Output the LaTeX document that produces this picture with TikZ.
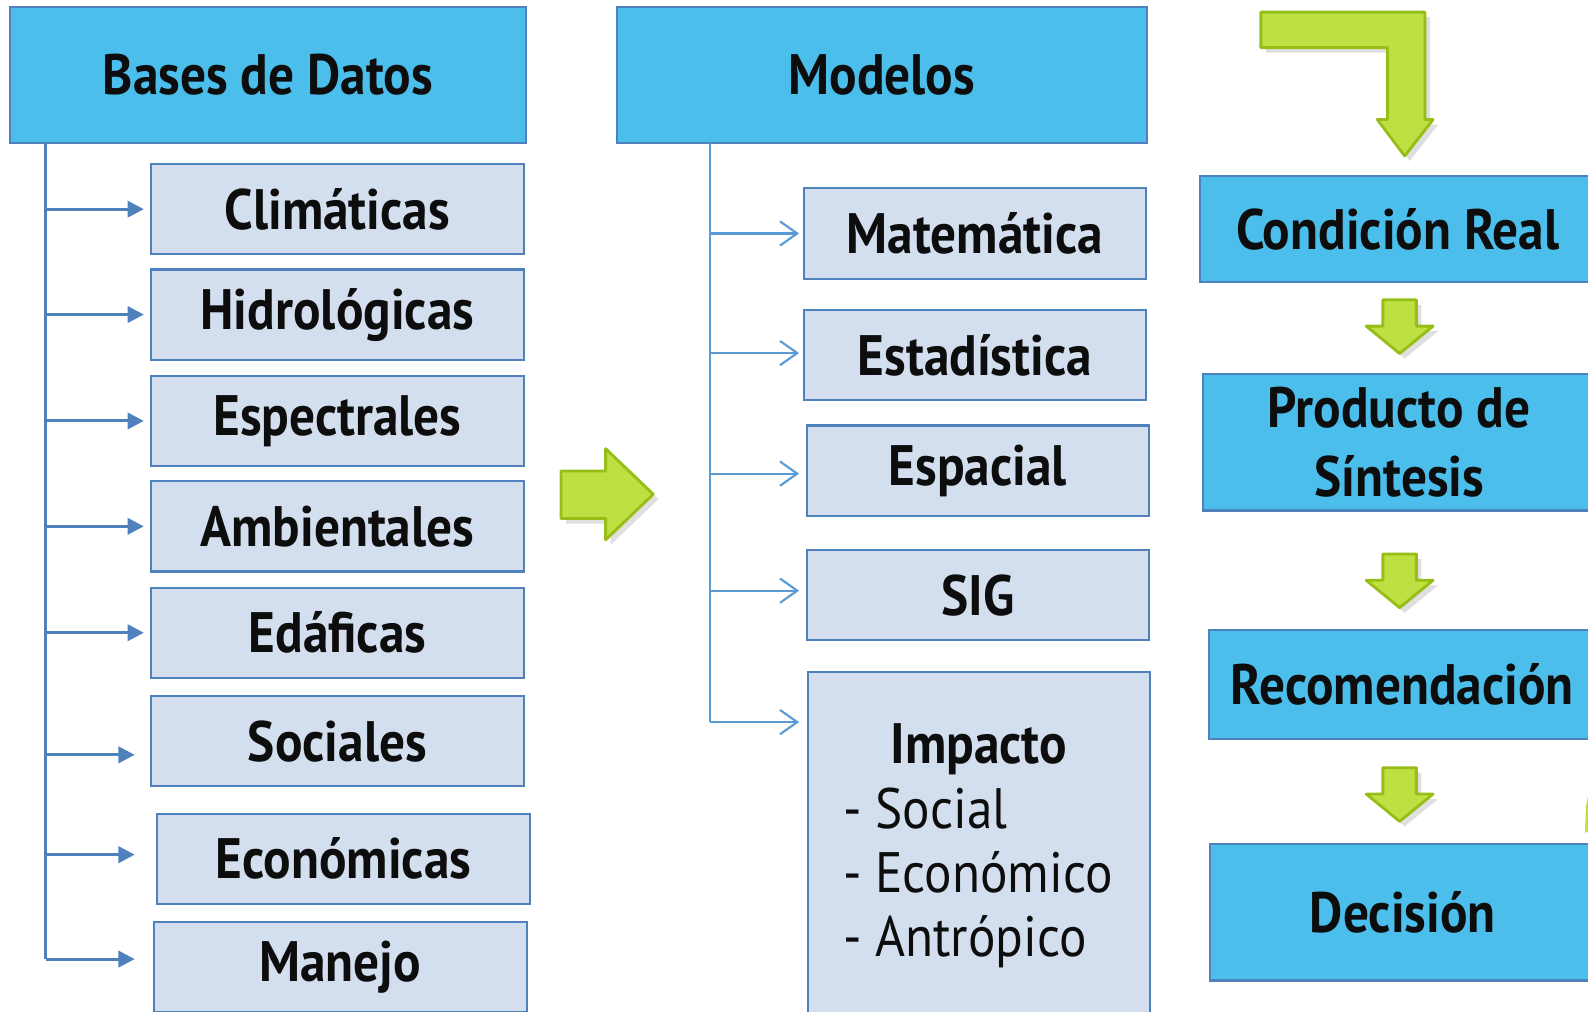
\documentclass[tikz,border=0pt]{standalone}
\usepackage{fontspec}
\setmainfont{PT Sans}[FakeStretch=0.9]
\usetikzlibrary{arrows.meta,positioning,shadows}

\definecolor{headblue}{RGB}{75,190,236}
\definecolor{itemfill}{RGB}{211,223,238}
\definecolor{edgeblue}{RGB}{79,129,189}
\definecolor{linkblue}{RGB}{91,155,213}
\definecolor{leafgreen}{RGB}{190,224,66}
\definecolor{leafedge}{RGB}{150,190,22}
\definecolor{inktext}{RGB}{13,13,13}

\begin{document}
\begin{tikzpicture}[
  x=0.01cm, y=-0.01cm,
  font=\bfseries\fontsize{16}{19.5}\selectfont,
  text=inktext,
  head/.style={rectangle, draw=edgeblue, fill=headblue, line width=0.6pt, align=center,
               inner sep=0pt, outer sep=0pt},
  item/.style={rectangle, draw=edgeblue, fill=itemfill, line width=0.6pt, align=center,
               inner sep=0pt, outer sep=0pt, minimum width=3.68cm, minimum height=0.89cm},
  model/.style={item, minimum width=3.37cm},
  trunk/.style={edgeblue, line width=0.85pt},
  link/.style={-{Triangle[length=1.6mm,width=1.6mm]}, edgeblue, line width=0.85pt},
  thintrunk/.style={linkblue, line width=0.6pt},
  openlink/.style={-{Straight Barb[length=1.7mm,width=2.4mm]}, linkblue, line width=0.6pt},
  greenshape/.style={fill=leafgreen, draw=leafedge, line width=0.8pt, line join=round,
                     drop shadow={opacity=0.25, shadow xshift=0.05cm, shadow yshift=-0.05cm}},
  downgreen/.pic={\draw[greenshape] (-16.5,-26) -- (16.5,-26) -- (16.5,0) -- (33,0) -- (0,27)
                   -- (-33,0) -- (-16.5,0) -- cycle;},
  listtext/.style={font=\fontsize{16}{19.5}\selectfont, anchor=base west, inner sep=0pt}
]
\useasboundingbox (0,0) rectangle (1568,999);

% headers
\node[head, minimum width=5.09cm, minimum height=1.34cm, anchor=north west] (bases) at (10,7) {Bases de Datos};
\node[head, minimum width=5.23cm, minimum height=1.34cm, anchor=north west] (modelos) at (609,7) {Modelos};

% data bases
\node[item, anchor=north west] (clim) at (149,162) {Climáticas};
\node[item, below=0.15cm of clim] (hidro) {Hidrológicas};
\node[item, below=0.16cm of hidro] (espec) {Espectrales};
\node[item, below=0.15cm of espec] (amb) {Ambientales};
\node[item, below=0.16cm of amb] (edaf) {Edáficas};
\node[item, below=0.18cm of edaf] (soc) {Sociales};
\node[item, below=0.27cm of soc, xshift=0.06cm] (econ) {Económicas};
\node[item, below=0.18cm of econ, xshift=-0.03cm] (manejo) {Manejo};

\coordinate (ltop) at (45,141);
\coordinate (lbot) at (45,947);
\draw[trunk] (ltop) -- (lbot);
\draw[link] (ltop |- clim.west) -- ([xshift=-0.07cm]clim.west);
\draw[link] (ltop |- hidro.west) -- ([xshift=-0.07cm]hidro.west);
\draw[link] (ltop |- espec.west) -- ([xshift=-0.07cm]espec.west);
\draw[link] (ltop |- amb.west) -- ([xshift=-0.07cm]amb.west);
\draw[link] (ltop |- edaf.west) -- ([xshift=-0.07cm]edaf.west);
\draw[link] ([yshift=-0.135cm]ltop |- soc.west) -- ([xshift=-0.16cm,yshift=-0.135cm]soc.west);
\draw[link] ([yshift=0.04cm]ltop |- econ.west) -- ([xshift=-0.22cm,yshift=0.04cm]econ.west);
\draw[link] (lbot) -- ([xshift=-0.19cm]lbot -| manejo.west);

% big arrow between columns
\draw[greenshape] (554,465) -- (598,465) -- (598,443) -- (645,488) -- (598,533) -- (598,512)
  -- (554,512) -- cycle;

% models
\node[model, anchor=north west] (mate) at (794,186) {Matemática};
\node[model, below=0.31cm of mate] (esta) {Estadística};
\node[model, below=0.25cm of esta, xshift=0.03cm] (espa) {Espacial};
\node[model, below=0.34cm of espa] (sig) {SIG};
\node[model, below=0.31cm of sig, xshift=0.01cm, minimum height=3.45cm] (imp) {};
\node[below=0.5cm of imp.north, inner sep=0pt] (imptitle) {Impacto};
\node[listtext] (social) at (832,818) {- Social};
\node[listtext] (econo) at (832,881) {- Económico};
\node[listtext] (antro) at (832,944) {- Antrópico};

\coordinate (mtop) at (701,141);
\coordinate (mbot) at (701,713);
\draw[thintrunk] (mtop) -- (mbot);
\draw[openlink] (mtop |- mate.west) -- ([xshift=-0.05cm]mate.west);
\draw[openlink] ([yshift=0.02cm]mtop |- esta.west) -- ([xshift=-0.05cm,yshift=0.02cm]esta.west);
\draw[openlink] ([yshift=-0.03cm]mtop |- espa.west) -- ([xshift=-0.08cm,yshift=-0.03cm]espa.west);
\draw[openlink] ([yshift=0.045cm]mtop |- sig.west) -- ([xshift=-0.08cm,yshift=0.045cm]sig.west);
\draw[openlink] (mbot) -- ([xshift=-0.09cm]mbot -| imp.west);

% decision chain
\draw[greenshape] (1245,12) -- (1407,12) -- (1407,118) -- (1415,118) -- (1387,154) -- (1360,118)
  -- (1370,118) -- (1370,47) -- (1245,47) -- cycle;
\node[head, minimum width=3.9cm, minimum height=1.04cm, anchor=north west] (cond) at (1185,174) {Condición Real};
\node[head, minimum width=3.87cm, minimum height=1.35cm, anchor=north west] (prod) at (1188,369) {Producto de\\Síntesis};
\node[head, minimum width=3.81cm, minimum height=1.08cm, anchor=north west] (reco) at (1194,622) {Recomendación};
\node[head, minimum width=3.8cm, minimum height=1.35cm, anchor=north west] (deci) at (1195,833) {Decisión};

\pic at (1382,322) {downgreen};
\pic at (1382,573) {downgreen};
\pic at (1382,784) {downgreen};

% edge of a further arrow, cut by the border
\fill[leafgreen] (1565,822) -- (1566,796) -- (1570,776) -- (1575,774) -- (1575,822) -- cycle;

\end{tikzpicture}
\end{document}
